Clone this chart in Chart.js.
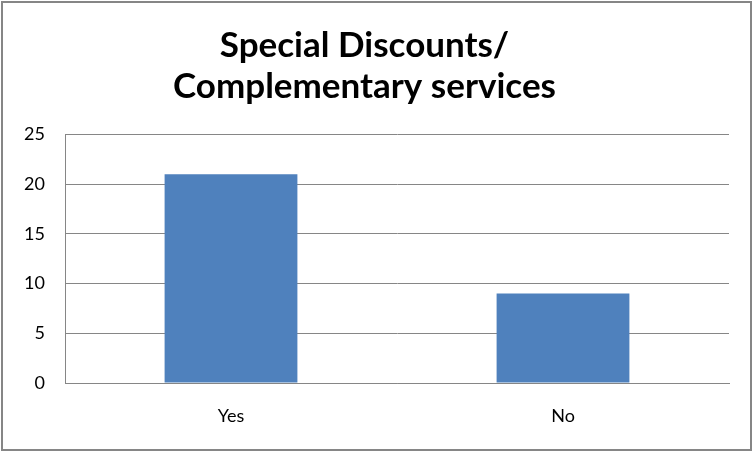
<!DOCTYPE html>
<html>
<head>
<meta charset="utf-8">
<script src="https://cdn.jsdelivr.net/npm/chart.js@4/dist/chart.umd.min.js"></script>
<style>
  html, body { margin: 0; padding: 0; background: #fff; }
  #wrap { width: 753px; height: 452px; position: relative; }
</style>
</head>
<body>
<div id="wrap"><canvas id="discountChart" width="753" height="452"></canvas></div>
<script>
'use strict';

const categories = ['Yes', 'No'];
const counts = [21, 9];
const yTicks = { min: 0, max: 25, step: 5 };

const frame = {
    id: 'frame',
    afterDraw(chart) {
        const c = chart.ctx;
        c.save();
        c.strokeStyle = '#868686';
        c.lineWidth = 2;
        c.strokeRect(2, 2, 749, 448);
        c.restore();
    }
};

const ctx = document.getElementById('discountChart').getContext('2d');
new Chart(ctx, {
    type: 'bar',
    data: {
        labels: categories,
        datasets: [{
            data: counts,
            backgroundColor: '#4F81BD',
            borderWidth: 0,
            barPercentage: 0.4,
            categoryPercentage: 1
        }]
    },
    options: {
        responsive: false,
        animation: false,
        layout: { padding: { left: 0, right: 24, top: 0, bottom: 0 } },
        plugins: {
            legend: { display: false },
            tooltip: { enabled: false },
            title: {
                display: true,
                text: ['Special Discounts/', 'Complementary services'],
                color: '#000',
                font: { family: 'Lato', size: 35, weight: 'bold', lineHeight: 1.18 },
                padding: { top: 25, bottom: 27 }
            }
        },
        scales: {
            x: {
                grid: { display: false, drawTicks: false },
                border: { display: true, color: '#868686', width: 1 },
                ticks: { color: '#000', font: { family: 'Lato', size: 18 }, padding: 22 },
                afterFit(scale) { scale.height = 69; }
            },
            y: {
                min: yTicks.min,
                max: yTicks.max,
                grid: { color: '#868686', drawTicks: false },
                border: { display: true, color: '#868686', width: 1 },
                ticks: {
                    stepSize: yTicks.step,
                    color: '#000',
                    font: { family: 'Lato', size: 18 },
                    padding: 20
                },
                afterFit(scale) { scale.width = 65; }
            }
        }
    },
    plugins: [frame]
});
</script>
</body>
</html>
